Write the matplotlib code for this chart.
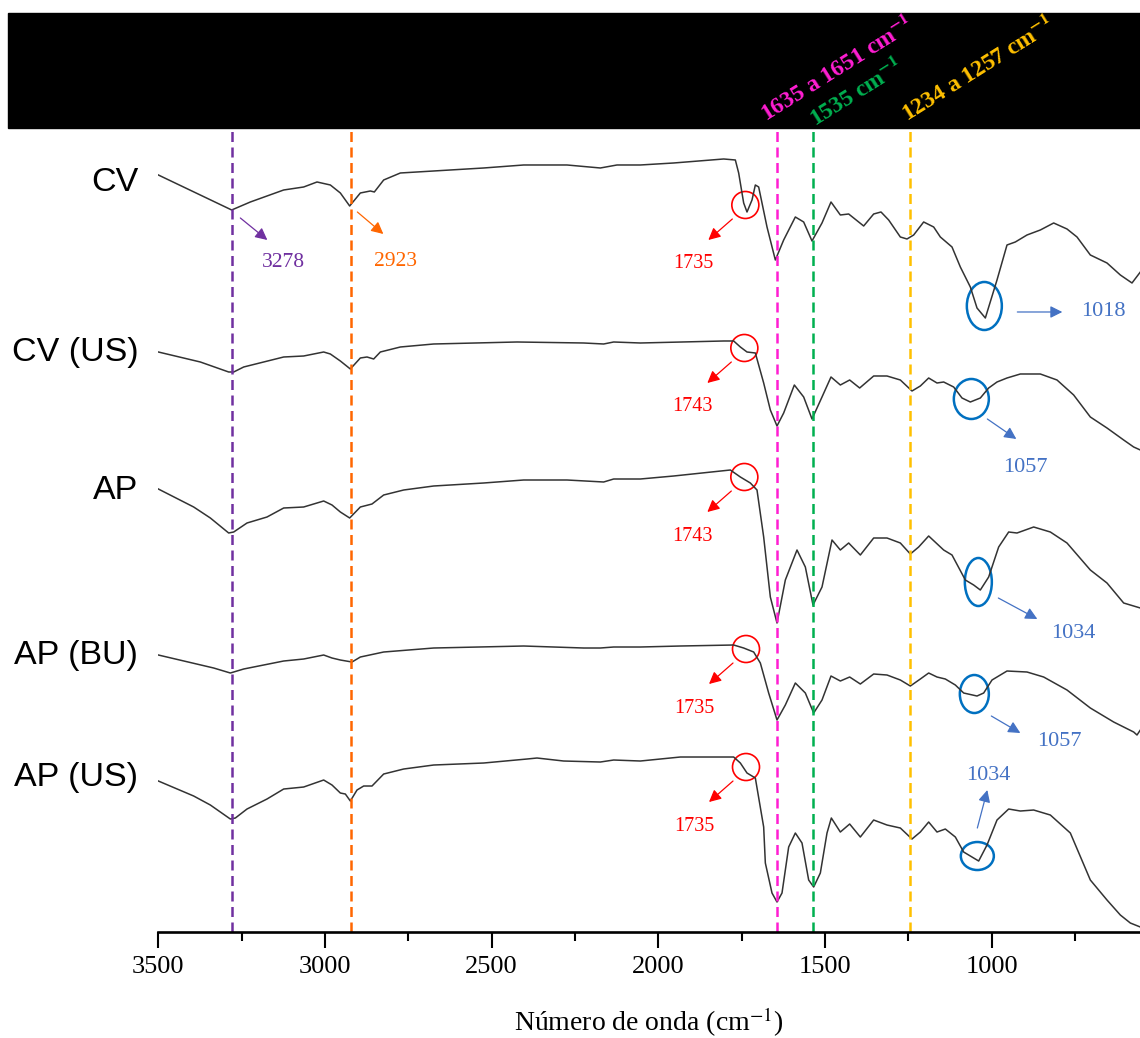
import numpy as np
import matplotlib.pyplot as plt
from matplotlib.patches import Ellipse, Rectangle

plt.rcParams['font.family'] = ['Liberation Serif', 'DejaVu Serif']
plt.rcParams['mathtext.fontset'] = 'stix'

# espectros FTIR (numero de onda, transmitancia desplazada en u.a.)
wn_cv = [3500, 3280, 3224, 3124, 3064, 3024, 2984, 2954, 2926, 2894, 2864, 2852, 2824, 2774,
         2674, 2524, 2404, 2274, 2174, 2124, 2054, 1954, 1804, 1769, 1759, 1744, 1734, 1719,
         1709, 1699, 1674, 1649, 1624, 1589, 1564, 1539, 1509, 1482, 1454, 1429, 1384, 1354,
         1332, 1309, 1274, 1254, 1234, 1204, 1174, 1154, 1119, 1094, 1064, 1044, 1019, 984,
         954, 929, 894, 854, 814, 774, 744, 704, 654, 614, 579, 554]
t_cv = [757, 722, 730, 742, 745, 750, 747, 739, 726, 739, 741, 740, 752, 759,
        761, 764, 767, 767, 764, 767, 767, 769, 773, 772, 759, 729, 720, 732,
        747, 745, 705, 672, 692, 715, 710, 691, 709, 730, 717, 718, 706, 718,
        720, 712, 695, 693, 697, 710, 705, 695, 685, 665, 645, 624, 614, 652,
        687, 690, 697, 702, 709, 703, 695, 677, 669, 657, 649, 660]

wn_cvus = [3500, 3374, 3289, 3274, 3244, 3124, 3064, 3004, 2984, 2954, 2924, 2894, 2874, 2854,
           2834, 2774, 2674, 2424, 2224, 2164, 2134, 2054, 1804, 1774, 1754, 1734, 1709, 1684,
           1664, 1644, 1624, 1592, 1564, 1539, 1509, 1482, 1454, 1426, 1396, 1354, 1314, 1274,
           1239, 1214, 1189, 1164, 1144, 1114, 1089, 1064, 1034, 1009, 984, 954, 914, 854,
           804, 754, 704, 654, 604, 574, 554]
t_cvus = [580, 570, 560, 560, 565, 575, 576, 580, 578, 571, 563, 574, 575, 573,
          580, 585, 588, 590, 589, 588, 590, 589, 591, 591, 585, 580, 579, 549,
          522, 506, 519, 547, 535, 513, 535, 555, 547, 552, 544, 556, 556, 552,
          541, 546, 554, 549, 550, 545, 534, 530, 534, 544, 550, 554, 558, 558,
          552, 537, 515, 504, 492, 485, 482]

wn_ap = [3500, 3394, 3344, 3289, 3274, 3234, 3174, 3124, 3064, 3004, 2979, 2954, 2926, 2894,
         2859, 2824, 2764, 2674, 2524, 2404, 2274, 2164, 2134, 2054, 1954, 1784, 1754, 1724,
         1704, 1684, 1664, 1644, 1619, 1584, 1559, 1536, 1509, 1479, 1454, 1429, 1394, 1354,
         1314, 1274, 1244, 1219, 1189, 1144, 1119, 1079, 1054, 1034, 1009, 979, 949, 924,
         874, 824, 774, 704, 654, 604, 554]
t_ap = [443, 425, 414, 399, 400, 409, 415, 424, 425, 431, 427, 420, 414, 425,
        428, 437, 442, 446, 449, 452, 452, 450, 453, 453, 456, 462, 455, 449,
        442, 395, 335, 309, 352, 382, 365, 327, 345, 392, 382, 389, 377, 394,
        394, 389, 378, 385, 396, 382, 377, 352, 347, 342, 355, 385, 400, 399,
        405, 400, 389, 362, 349, 329, 324]

wn_apbu = [3500, 3334, 3284, 3244, 3124, 3064, 3004, 2979, 2954, 2919, 2894, 2824, 2674, 2404,
           2224, 2174, 2134, 2054, 1934, 1774, 1744, 1714, 1694, 1669, 1644, 1619, 1589, 1559,
           1534, 1509, 1482, 1454, 1426, 1394, 1354, 1314, 1274, 1244, 1214, 1189, 1164, 1139,
           1109, 1084, 1044, 1024, 999, 954, 894, 844, 774, 704, 634, 574, 564, 554]
t_apbu = [277, 264, 259, 263, 271, 273, 277, 274, 272, 270, 275, 280, 284, 286,
          284, 284, 285, 285, 286, 287, 284, 280, 269, 239, 212, 227, 249, 239,
          219, 232, 256, 251, 255, 248, 258, 257, 252, 246, 253, 259, 255, 253,
          247, 239, 236, 239, 252, 261, 260, 255, 242, 224, 210, 200, 197, 202]

wn_apus = [3500, 3394, 3344, 3284, 3269, 3234, 3174, 3124, 3064, 3004, 2979, 2954, 2939, 2924,
           2904, 2884, 2859, 2824, 2764, 2674, 2524, 2394, 2364, 2284, 2174, 2134, 2054, 1934,
           1774, 1754, 1734, 1709, 1684, 1679, 1659, 1644, 1629, 1609, 1589, 1569, 1549, 1534,
           1514, 1494, 1481, 1454, 1426, 1394, 1354, 1314, 1274, 1239, 1214, 1189, 1164, 1139,
           1109, 1084, 1044, 1039, 1014, 984, 949, 914, 874, 824, 764, 704, 654, 614, 584, 554]
t_apus = [151, 136, 127, 113, 114, 123, 133, 143, 145, 152, 147, 139, 138, 131,
          142, 146, 146, 158, 163, 167, 169, 173, 174, 171, 170, 172, 171, 175,
          175, 169, 159, 154, 105, 69, 39, 30, 39, 85, 99, 89, 52, 45,
          59, 99, 114, 100, 108, 95, 112, 107, 104, 93, 100, 110, 100, 103,
          95, 80, 72, 71, 87, 112, 123, 121, 122, 117, 99, 52, 32, 17, 9, 5]

muestras = ['CV', 'CV (US)', 'AP', 'AP (BU)', 'AP (US)']
y_muestras = [749, 579, 442, 277, 155]

# bandas marcadas con lineas discontinuas
bandas = [3278, 2923, 1643, 1535, 1245.5]
col_bandas = ['#7030A0', '#FF6600', '#FF1ED2', '#00B050', '#FFC000']

# circulos rojos (C=O) y elipses azules (C-O)
c_rojo = [(1739, 727), (1742, 584), (1742, 455), (1737, 283), (1737, 165)]
lab_rojo = ['1735', '1743', '1743', '1735', '1735']
e_azul = [(1022, 626, 105, 48), (1061, 533, 105, 40), (1040, 350, 81, 48),
          (1052, 238, 87, 38), (1043, 76, 99, 28)]
lab_azul = ['1018', '1057', '1034', '1057', '1034']

fig = plt.figure(figsize=(11.4, 10.38), dpi=100)
ax = fig.add_axes([0.1389, 0.1021, 0.8611, 0.7746])

for wn, t in [(wn_cv, t_cv), (wn_cvus, t_cvus), (wn_ap, t_ap), (wn_apbu, t_apbu), (wn_apus, t_apus)]:
    ax.plot(wn, t, color='#333333', lw=1.1)

for b, c in zip(bandas, col_bandas):
    ax.axvline(b, color=c, lw=1.8, dashes=(4, 2.2))

for (w, h), lab in zip(c_rojo, lab_rojo):
    ax.add_patch(Ellipse((w, h), 81, 27, fill=False, ec='red', lw=1.2))
    ax.annotate('', xy=(w + 111, h - 35), xytext=(w + 39, h - 14),
                arrowprops=dict(arrowstyle='-|>', color='red', lw=0.9, mutation_scale=18,
                                shrinkA=0, shrinkB=0))
    ax.text(w + 156, h - 59, lab, color='red', fontsize=14.5, ha='center', va='center')

for (w, h, ew, eh), lab in zip(e_azul, lab_azul):
    ax.add_patch(Ellipse((w, h), ew, eh, fill=False, ec='#0070C0', lw=1.8))

flechas_azul = [((923, 620), (788, 620), (665, 620)),
                ((1013, 513), (926, 493), (899, 465)),
                ((980, 334), (863, 313), (755, 299)),
                ((1001, 216), (914, 199), (797, 191)),
                ((1043, 104), (1013, 142), (1010, 157))]
for (ini, fin, pos), lab in zip(flechas_azul, lab_azul):
    ax.annotate('', xy=fin, xytext=ini,
                arrowprops=dict(arrowstyle='-|>', color='#4472C4', lw=0.9, mutation_scale=18,
                                shrinkA=0, shrinkB=0))
    ax.text(pos[0], pos[1], lab, color='#4472C4', fontsize=16, ha='center', va='center')

ax.annotate('', xy=(3173, 692), xytext=(3254, 714),
            arrowprops=dict(arrowstyle='-|>', color='#7030A0', lw=0.9, mutation_scale=18,
                            shrinkA=0, shrinkB=0))
ax.text(3125, 669, '3278', color='#7030A0', fontsize=15.5, ha='center', va='center')
ax.annotate('', xy=(2825, 698), xytext=(2903, 720),
            arrowprops=dict(arrowstyle='-|>', color='#FF6600', lw=0.9, mutation_scale=18,
                            shrinkA=0, shrinkB=0))
ax.text(2789, 670, '2923', color='#FF6600', fontsize=15.5, ha='center', va='center')

for m, y in zip(muestras, y_muestras):
    ax.text(3560, y, m, family='Liberation Sans', fontsize=24.5, ha='right', va='center')

ax.set_xlim(3500, 555)
ax.set_ylim(0, 804)
ax.set_xticks([3500, 3000, 2500, 2000, 1500, 1000])
ax.set_xticks([3250, 2750, 2250, 1750, 1250, 750], minor=True)
ax.tick_params(axis='x', which='major', direction='out', length=11.5, width=1.5,
               labelsize=19, pad=6)
ax.tick_params(axis='x', which='minor', direction='out', length=6.5, width=1.5)
ax.set_yticks([])
for s in ['left', 'right', 'top']:
    ax.spines[s].set_visible(False)
ax.spines['bottom'].set_linewidth(1.9)
ax.set_xlabel('Número de onda (cm$^{\\mathrm{-1}}$)', fontsize=20, labelpad=20)

# franja negra superior con las bandas
fig.patches.append(Rectangle((8 / 1140, 1 - 128 / 1038), 1 - 8 / 1140, 115 / 1038,
                             transform=fig.transFigure, color='black', zorder=0))
fig.text(766 / 1140, 1 - 121 / 1038, '1635 a 1651 cm$^{\\mathbf{-1}}$', color='#FF1ED2',
         fontsize=17, fontweight='bold', rotation=32, rotation_mode='anchor',
         ha='left', va='baseline')
fig.text(815 / 1140, 1 - 126 / 1038, '1535 cm$^{\\mathbf{-1}}$', color='#00B050',
         fontsize=17, fontweight='bold', rotation=32, rotation_mode='anchor',
         ha='left', va='baseline')
fig.text(907 / 1140, 1 - 121 / 1038, '1234 a 1257 cm$^{\\mathbf{-1}}$', color='#FFC000',
         fontsize=17, fontweight='bold', rotation=32, rotation_mode='anchor',
         ha='left', va='baseline')

fig.savefig('out.png', dpi=100)
